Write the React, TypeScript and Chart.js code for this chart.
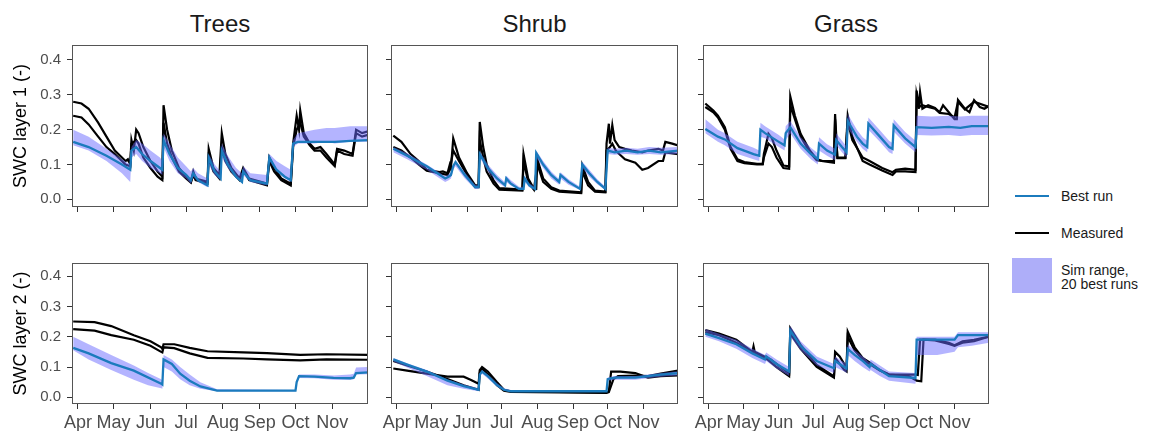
import React, { useEffect, useRef } from "react";
import { Chart, registerables } from "chart.js";

Chart.register(...registerables);
Chart.defaults.font.family = "'Liberation Sans', Arial, sans-serif";

type Pt = [number, number];
type Rng = [number, number, number];

// ---------- axes / labels ----------
const monthStartDays = [91, 121, 152, 182, 213, 244, 274, 305];
const monthLabels = ["Apr", "May", "Jun", "Jul", "Aug", "Sep", "Oct", "Nov"];
const swcTicks = [0, 0.1, 0.2, 0.3, 0.4];
const vegetationTypes = ["Trees", "Shrub", "Grass"];
const layerTitles = ["SWC layer 1 (-)", "SWC layer 2 (-)"];
const legendLabels = ["Best run", "Measured", "Sim range,", "20 best runs"];
const dayRange = [86, 335];
const swcRange = [-0.022, 0.443];

// ---------- Trees, layer 1 ----------
const treesL1MeasA: Pt[] = [[87,0.28],[94,0.275],[100,0.26],[108,0.22],[115,0.18],[122,0.14],[128,0.12],[131,0.11],[133,0.115],[135,0.1],[136,0.17],[138,0.14],[140,0.2],[142,0.19],[146,0.15],[152,0.11],[158,0.08],[162,0.065],[163,0.27],[166,0.2],[170,0.14],[176,0.09],[182,0.065],[186,0.05],[188,0.08],[190,0.06],[200,0.05],[201,0.145],[205,0.09],[210,0.07],[212,0.19],[215,0.13],[220,0.09],[227,0.06],[230,0.09],[235,0.06],[250,0.045],[252,0.12],[256,0.09],[262,0.06],[270,0.045],[272,0.16],[275,0.24],[277,0.2],[278,0.255],[281,0.19],[286,0.16],[290,0.145],[295,0.15],[300,0.13],[307,0.1],[309,0.145],[315,0.14],[322,0.13],[325,0.2],[330,0.19],[335,0.195]];
const treesL1MeasB: Pt[] = [[87,0.24],[94,0.235],[100,0.215],[108,0.18],[115,0.15],[122,0.13],[128,0.11],[131,0.1],[135,0.095],[136,0.16],[140,0.17],[142,0.16],[146,0.12],[152,0.09],[158,0.065],[162,0.055],[163,0.22],[166,0.16],[170,0.12],[176,0.08],[182,0.06],[186,0.048],[188,0.07],[190,0.055],[200,0.045],[201,0.12],[205,0.08],[210,0.06],[212,0.15],[215,0.11],[220,0.08],[227,0.055],[230,0.085],[235,0.055],[250,0.04],[252,0.11],[256,0.08],[262,0.055],[270,0.04],[272,0.15],[275,0.2],[278,0.22],[281,0.18],[286,0.155],[290,0.14],[295,0.14],[300,0.12],[307,0.095],[309,0.14],[315,0.13],[322,0.125],[325,0.19],[330,0.18],[335,0.185]];
const treesL1Best: Pt[] = [[87,0.165],[100,0.15],[115,0.125],[128,0.1],[135,0.085],[136,0.14],[140,0.15],[145,0.13],[152,0.11],[160,0.09],[162,0.085],[163,0.17],[168,0.13],[175,0.09],[182,0.07],[186,0.055],[188,0.075],[192,0.055],[200,0.04],[201,0.12],[206,0.08],[211,0.06],[212,0.14],[217,0.1],[224,0.065],[229,0.05],[230,0.08],[236,0.055],[250,0.045],[252,0.12],[258,0.085],[265,0.065],[270,0.055],[272,0.16],[276,0.165],[290,0.165],[307,0.165],[320,0.168],[335,0.17]];
const treesL1Range: Rng[] = [[87,0.155,0.2],[100,0.14,0.18],[115,0.11,0.145],[128,0.075,0.115],[135,0.05,0.1],[136,0.12,0.15],[140,0.13,0.17],[145,0.11,0.16],[152,0.09,0.14],[160,0.075,0.12],[162,0.07,0.11],[163,0.15,0.19],[168,0.11,0.16],[175,0.075,0.12],[182,0.06,0.095],[186,0.045,0.08],[188,0.065,0.09],[192,0.05,0.075],[200,0.035,0.06],[201,0.1,0.13],[206,0.07,0.1],[211,0.055,0.08],[212,0.12,0.16],[217,0.09,0.125],[224,0.06,0.09],[229,0.05,0.075],[230,0.07,0.095],[236,0.05,0.075],[250,0.04,0.07],[252,0.11,0.13],[258,0.08,0.11],[265,0.06,0.095],[270,0.05,0.085],[272,0.15,0.17],[276,0.16,0.19],[290,0.16,0.2],[300,0.165,0.205],[307,0.16,0.205],[320,0.165,0.21],[335,0.165,0.21]];

// ---------- Trees, layer 2 ----------
const treesL2MeasA: Pt[] = [[87,0.25],[105,0.248],[119,0.235],[138,0.205],[152,0.185],[161,0.165],[162,0.16],[163,0.175],[172,0.175],[185,0.163],[200,0.152],[230,0.148],[250,0.146],[278,0.14],[300,0.142],[335,0.14]];
const treesL2MeasB: Pt[] = [[87,0.225],[105,0.22],[119,0.205],[138,0.19],[152,0.17],[161,0.15],[162,0.148],[163,0.165],[172,0.162],[185,0.145],[200,0.13],[230,0.128],[250,0.125],[278,0.122],[300,0.125],[335,0.124]];
const treesL2Best: Pt[] = [[87,0.163],[100,0.145],[119,0.113],[138,0.088],[161,0.045],[162,0.042],[163,0.125],[170,0.11],[177,0.078],[185,0.055],[194,0.036],[208,0.022],[274,0.022],[275,0.05],[277,0.07],[290,0.068],[306,0.064],[320,0.063],[323,0.065],[325,0.08],[335,0.082]];
const treesL2Range: Rng[] = [[87,0.155,0.2],[100,0.125,0.175],[119,0.09,0.14],[138,0.058,0.105],[150,0.04,0.08],[161,0.03,0.06],[162,0.028,0.055],[163,0.1,0.14],[170,0.085,0.125],[177,0.06,0.1],[185,0.04,0.075],[194,0.028,0.05],[208,0.02,0.027],[274,0.02,0.024],[275,0.045,0.055],[277,0.064,0.075],[290,0.063,0.075],[306,0.058,0.072],[320,0.058,0.075],[323,0.06,0.078],[325,0.075,0.098],[335,0.076,0.1]];

// ---------- Shrub, layer 1 ----------
const shrubL1MeasA: Pt[] = [[88,0.183],[95,0.165],[103,0.13],[110,0.11],[117,0.085],[128,0.078],[131,0.08],[135,0.075],[137,0.1],[138,0.09],[140,0.175],[145,0.12],[152,0.075],[159,0.04],[162,0.04],[163,0.222],[166,0.15],[169,0.1],[175,0.054],[180,0.032],[200,0.028],[201,0.13],[205,0.06],[210,0.03],[212,0.03],[213,0.115],[218,0.06],[225,0.035],[232,0.025],[251,0.02],[252,0.097],[257,0.05],[263,0.025],[272,0.022],[273,0.16],[275,0.217],[276,0.16],[278,0.213],[280,0.17],[284,0.15],[289,0.145],[295,0.14],[304,0.135],[309,0.14],[318,0.145],[322,0.14],[324,0.165],[330,0.16],[335,0.155]];
const shrubL1MeasB: Pt[] = [[88,0.15],[95,0.14],[103,0.12],[110,0.1],[117,0.082],[128,0.075],[135,0.07],[137,0.085],[140,0.14],[145,0.11],[152,0.07],[159,0.035],[162,0.035],[163,0.17],[166,0.12],[169,0.08],[175,0.045],[180,0.028],[200,0.025],[201,0.11],[205,0.05],[210,0.028],[213,0.1],[218,0.05],[225,0.03],[232,0.022],[251,0.018],[252,0.08],[257,0.04],[263,0.022],[272,0.02],[273,0.14],[276,0.15],[278,0.16],[281,0.14],[284,0.13],[289,0.115],[298,0.105],[304,0.085],[309,0.09],[318,0.11],[322,0.11],[324,0.135],[335,0.13]];
const shrubL1Best: Pt[] = [[88,0.145],[100,0.125],[117,0.095],[133,0.06],[136,0.065],[138,0.07],[140,0.095],[142,0.107],[150,0.07],[159,0.035],[162,0.035],[163,0.13],[170,0.09],[178,0.06],[185,0.04],[186,0.06],[190,0.045],[197,0.03],[201,0.03],[202,0.06],[206,0.04],[211,0.03],[212,0.133],[218,0.1],[225,0.07],[232,0.05],[233,0.07],[240,0.05],[250,0.03],[252,0.1],[258,0.075],[265,0.05],[272,0.03],[274,0.14],[280,0.135],[290,0.14],[300,0.135],[310,0.14],[320,0.135],[335,0.14]];
const shrubL1Range: Rng[] = [[88,0.135,0.15],[100,0.115,0.132],[117,0.085,0.1],[133,0.05,0.066],[136,0.055,0.072],[138,0.06,0.078],[140,0.085,0.1],[142,0.095,0.112],[150,0.06,0.078],[159,0.03,0.042],[162,0.03,0.04],[163,0.12,0.138],[170,0.08,0.1],[178,0.05,0.07],[185,0.035,0.048],[186,0.05,0.068],[190,0.04,0.055],[197,0.027,0.036],[201,0.027,0.035],[202,0.05,0.068],[206,0.035,0.046],[211,0.027,0.035],[212,0.12,0.14],[218,0.09,0.11],[225,0.06,0.08],[232,0.042,0.058],[233,0.06,0.078],[240,0.042,0.058],[250,0.027,0.036],[252,0.09,0.108],[258,0.065,0.085],[265,0.043,0.058],[272,0.027,0.036],[274,0.13,0.148],[280,0.128,0.145],[290,0.13,0.148],[300,0.128,0.145],[310,0.13,0.15],[320,0.128,0.148],[335,0.13,0.15]];

// ---------- Shrub, layer 2 ----------
const shrubL2MeasA: Pt[] = [[88,0.095],[100,0.088],[117,0.078],[135,0.068],[149,0.068],[155,0.058],[162,0.045],[163,0.09],[165,0.1],[170,0.085],[178,0.05],[184,0.025],[190,0.02],[230,0.018],[273,0.016],[275,0.02],[277,0.085],[285,0.085],[298,0.08],[305,0.07],[309,0.065],[320,0.07],[335,0.072]];
const shrubL2MeasB: Pt[] = [[88,0.12],[100,0.105],[117,0.085],[135,0.06],[149,0.04],[162,0.025],[163,0.08],[165,0.095],[170,0.075],[178,0.04],[184,0.022],[190,0.018],[273,0.015],[275,0.017],[279,0.06],[283,0.07],[298,0.072],[309,0.07],[320,0.078],[335,0.088]];
const shrubL2Best: Pt[] = [[88,0.125],[100,0.108],[117,0.085],[135,0.055],[149,0.037],[162,0.025],[163,0.075],[165,0.085],[170,0.07],[178,0.04],[184,0.025],[190,0.02],[273,0.02],[274,0.06],[280,0.065],[298,0.065],[309,0.07],[320,0.075],[335,0.08]];
const shrubL2Range: Rng[] = [[88,0.118,0.13],[100,0.098,0.112],[117,0.07,0.09],[135,0.04,0.06],[149,0.028,0.042],[162,0.02,0.03],[163,0.068,0.08],[165,0.078,0.09],[170,0.062,0.075],[178,0.035,0.047],[184,0.022,0.03],[190,0.018,0.024],[273,0.018,0.023],[274,0.055,0.065],[280,0.058,0.07],[298,0.058,0.07],[309,0.063,0.075],[320,0.068,0.08],[335,0.072,0.086]];

// ---------- Grass, layer 1 ----------
const grassL1MeasA: Pt[] = [[88,0.275],[95,0.255],[99,0.24],[105,0.207],[110,0.15],[116,0.115],[122,0.107],[133,0.102],[138,0.102],[139,0.13],[143,0.188],[146,0.175],[150,0.14],[156,0.097],[161,0.095],[162,0.295],[166,0.24],[171,0.188],[179,0.14],[185,0.116],[190,0.11],[200,0.11],[201,0.245],[203,0.12],[210,0.12],[212,0.24],[216,0.18],[225,0.11],[231,0.1],[242,0.083],[251,0.07],[254,0.08],[262,0.08],[271,0.078],[272,0.312],[274,0.26],[275,0.307],[277,0.26],[282,0.27],[288,0.262],[292,0.25],[295,0.27],[300,0.25],[305,0.23],[307,0.23],[308,0.285],[314,0.26],[318,0.25],[322,0.285],[327,0.265],[331,0.26],[335,0.268]];
const grassL1MeasB: Pt[] = [[88,0.265],[95,0.25],[99,0.235],[105,0.2],[110,0.145],[116,0.11],[122,0.104],[133,0.1],[138,0.1],[139,0.12],[143,0.16],[146,0.15],[150,0.12],[156,0.09],[161,0.088],[162,0.27],[166,0.23],[171,0.18],[179,0.135],[185,0.112],[200,0.105],[201,0.23],[203,0.118],[210,0.118],[212,0.225],[216,0.17],[225,0.12],[231,0.11],[242,0.09],[251,0.078],[254,0.085],[262,0.088],[271,0.085],[272,0.3],[274,0.265],[277,0.27],[282,0.265],[288,0.26],[292,0.248],[300,0.245],[305,0.235],[308,0.28],[314,0.258],[322,0.28],[335,0.265]];
const grassL1Best: Pt[] = [[88,0.202],[99,0.18],[105,0.172],[116,0.147],[130,0.13],[135,0.125],[136,0.2],[140,0.19],[152,0.165],[157,0.155],[158,0.19],[162,0.207],[171,0.16],[180,0.13],[186,0.116],[187,0.16],[194,0.14],[201,0.128],[202,0.17],[207,0.15],[211,0.135],[212,0.225],[220,0.18],[225,0.16],[229,0.15],[230,0.217],[240,0.18],[248,0.15],[251,0.145],[252,0.212],[262,0.175],[271,0.15],[272,0.207],[285,0.205],[300,0.208],[310,0.205],[320,0.21],[335,0.21]];
const grassL1Range: Rng[] = [[88,0.19,0.23],[99,0.165,0.2],[105,0.155,0.19],[116,0.13,0.165],[130,0.115,0.148],[135,0.11,0.14],[136,0.18,0.22],[140,0.175,0.21],[152,0.15,0.185],[157,0.14,0.172],[158,0.17,0.21],[162,0.19,0.225],[171,0.145,0.178],[180,0.115,0.148],[186,0.1,0.132],[187,0.14,0.178],[194,0.125,0.158],[201,0.112,0.145],[202,0.155,0.19],[207,0.135,0.168],[211,0.12,0.152],[212,0.205,0.245],[220,0.165,0.2],[225,0.145,0.178],[229,0.135,0.168],[230,0.2,0.235],[240,0.165,0.198],[248,0.135,0.168],[251,0.13,0.162],[252,0.195,0.23],[262,0.16,0.193],[271,0.135,0.168],[272,0.185,0.24],[285,0.183,0.238],[300,0.185,0.24],[310,0.182,0.238],[320,0.185,0.24],[335,0.185,0.24]];

// ---------- Grass, layer 2 ----------
const grassL2MeasA: Pt[] = [[88,0.222],[100,0.21],[115,0.19],[129,0.15],[130,0.168],[131,0.15],[142,0.13],[145,0.125],[150,0.11],[161,0.078],[162,0.228],[171,0.173],[185,0.107],[200,0.069],[201,0.15],[205,0.135],[209,0.11],[211,0.1],[212,0.217],[218,0.165],[225,0.13],[231,0.115],[240,0.09],[248,0.075],[271,0.075],[273,0.074],[275,0.19],[288,0.19],[300,0.18],[305,0.172],[312,0.185],[322,0.19],[335,0.2]];
const grassL2MeasB: Pt[] = [[88,0.215],[100,0.205],[115,0.18],[129,0.148],[142,0.125],[150,0.1],[161,0.07],[162,0.21],[171,0.16],[185,0.1],[200,0.065],[201,0.13],[209,0.09],[211,0.085],[212,0.2],[218,0.155],[225,0.125],[231,0.11],[240,0.088],[248,0.075],[265,0.07],[272,0.055],[276,0.053],[278,0.19],[288,0.188],[300,0.176],[305,0.17],[312,0.18],[322,0.185],[335,0.2]];
const grassL2Best: Pt[] = [[88,0.21],[100,0.195],[115,0.175],[129,0.145],[140,0.125],[141,0.135],[150,0.11],[161,0.085],[162,0.22],[171,0.17],[185,0.12],[200,0.096],[201,0.12],[209,0.1],[211,0.095],[212,0.16],[218,0.14],[225,0.12],[231,0.1],[232,0.11],[240,0.09],[248,0.07],[271,0.064],[272,0.19],[290,0.19],[305,0.19],[308,0.205],[320,0.205],[335,0.205]];
const grassL2Range: Rng[] = [[88,0.2,0.225],[100,0.185,0.21],[115,0.16,0.19],[129,0.13,0.16],[140,0.11,0.14],[141,0.12,0.148],[150,0.095,0.125],[161,0.07,0.1],[162,0.2,0.235],[171,0.155,0.185],[185,0.105,0.135],[200,0.08,0.11],[201,0.1,0.135],[209,0.085,0.115],[211,0.08,0.11],[212,0.14,0.175],[218,0.12,0.155],[225,0.1,0.135],[231,0.085,0.115],[232,0.09,0.125],[240,0.07,0.105],[248,0.055,0.085],[271,0.045,0.08],[272,0.14,0.2],[290,0.14,0.2],[305,0.15,0.2],[308,0.165,0.215],[320,0.17,0.215],[335,0.18,0.215]];

// ---------- layout & style ----------
const colLeft = [72, 391, 703];
const colRight = [368, 678, 989];
const rowTop = [45, 263];
const rowBottom = [207, 404];
const BLUE = "#1b7bbd";
const BAND = "rgba(105,105,255,0.5)";
const BAND_KEY = "#aeaef9";
const FONT = "'Liberation Sans', Arial, sans-serif";

const panels = [
  { row: 0, col: 0, measA: treesL1MeasA, measB: treesL1MeasB, best: treesL1Best, range: treesL1Range },
  { row: 0, col: 1, measA: shrubL1MeasA, measB: shrubL1MeasB, best: shrubL1Best, range: shrubL1Range },
  { row: 0, col: 2, measA: grassL1MeasA, measB: grassL1MeasB, best: grassL1Best, range: grassL1Range },
  { row: 1, col: 0, measA: treesL2MeasA, measB: treesL2MeasB, best: treesL2Best, range: treesL2Range },
  { row: 1, col: 1, measA: shrubL2MeasA, measB: shrubL2MeasB, best: shrubL2Best, range: shrubL2Range },
  { row: 1, col: 2, measA: grassL2MeasA, measB: grassL2MeasB, best: grassL2Best, range: grassL2Range },
];

const framePlugin = {
  id: "panelFrame",
  afterDraw(chart: any) {
    const { ctx, chartArea: a } = chart;
    ctx.save();
    ctx.strokeStyle = "#555555";
    ctx.lineWidth = 1;
    ctx.strokeRect(a.left + 0.5, a.top + 0.5, a.right - a.left - 1, a.bottom - a.top - 1);
    ctx.restore();
  },
};

function Panel({ p }: { p: any }) {
  const ref = useRef<HTMLCanvasElement>(null);
  const axisW = p.col === 0 ? 72 : 10;
  const axisH = p.row === 1 ? 27 : 8;
  const padT = 2;
  const padR = 2;
  const plotW = colRight[p.col] - colLeft[p.col];
  const plotH = rowBottom[p.row] - rowTop[p.row];
  const W = plotW + axisW + padR;
  const H = plotH + padT + axisH;

  useEffect(() => {
    const xy = (a: Pt[]) => a.map((d) => ({ x: d[0], y: d[1] }));
    const chart = new Chart(ref.current as HTMLCanvasElement, {
      type: "line",
      data: {
        datasets: [
          { data: xy(p.best), borderColor: BLUE, borderWidth: 2.3, pointRadius: 0, fill: false, tension: 0 },
          { data: p.range.map((d: Rng) => ({ x: d[0], y: d[2] })), borderColor: "rgba(0,0,0,0)", borderWidth: 0, backgroundColor: BAND, pointRadius: 0, fill: "+1", tension: 0 },
          { data: p.range.map((d: Rng) => ({ x: d[0], y: d[1] })), borderColor: "rgba(0,0,0,0)", borderWidth: 0, pointRadius: 0, fill: false, tension: 0 },
          { data: xy(p.measA), borderColor: "#000000", borderWidth: 2.2, pointRadius: 0, fill: false, tension: 0 },
          { data: xy(p.measB), borderColor: "#000000", borderWidth: 2.2, pointRadius: 0, fill: false, tension: 0 },
        ],
      } as any,
      options: {
        animation: false,
        responsive: false,
        devicePixelRatio: 1,
        events: [],
        layout: { padding: { top: padT, right: padR, left: 0, bottom: 0 } },
        plugins: { legend: { display: false }, tooltip: { enabled: false }, title: { display: false } },
        scales: {
          x: {
            type: "linear",
            min: dayRange[0],
            max: dayRange[1],
            afterBuildTicks: (s: any) => {
              s.ticks = monthStartDays.map((v) => ({ value: v }));
            },
            afterFit: (s: any) => {
              s.height = axisH;
              s.paddingLeft = 0; s.paddingRight = 0; s.paddingTop = 0; s.paddingBottom = 0;
            },
            ticks: {
              display: p.row === 1,
              autoSkip: false,
              maxRotation: 0,
              minRotation: 0,
              padding: 3,
              color: "#4d4d4d",
              font: { size: 18, family: FONT },
              callback: (_v: any, i: number) => monthLabels[i],
            },
            grid: { drawOnChartArea: false, drawTicks: true, tickLength: 5, color: "#333333", lineWidth: 1 },
            border: { display: false },
          },
          y: {
            type: "linear",
            min: swcRange[0],
            max: swcRange[1],
            afterBuildTicks: (s: any) => {
              s.ticks = swcTicks.map((v) => ({ value: v }));
            },
            afterFit: (s: any) => {
              s.width = axisW;
              s.paddingLeft = 0; s.paddingRight = 0; s.paddingTop = 0; s.paddingBottom = 0;
            },
            ticks: {
              display: p.col === 0,
              padding: 6,
              color: "#4d4d4d",
              font: { size: 15, family: FONT },
              callback: (v: any) => Number(v).toFixed(1),
            },
            title: {
              display: p.col === 0,
              text: layerTitles[p.row],
              color: "#000000",
              font: { size: 18, family: FONT },
              padding: { top: 10, bottom: 0 },
            },
            grid: { drawOnChartArea: false, drawTicks: true, tickLength: 5, color: "#333333", lineWidth: 1 },
            border: { display: false },
          },
        },
      } as any,
      plugins: [framePlugin],
    });
    return () => chart.destroy();
  }, []);

  return (
    <canvas
      ref={ref}
      width={W}
      height={H}
      style={{ position: "absolute", left: colLeft[p.col] - axisW, top: rowTop[p.row] - padT, width: W, height: H }}
    />
  );
}

export default function App() {
  const text = (extra: any) => ({ position: "absolute" as const, fontFamily: FONT, whiteSpace: "nowrap" as const, ...extra });
  return (
    <div style={{ position: "fixed", left: 0, top: 0, width: 1151, height: 431, background: "#ffffff", overflow: "hidden" }}>
      {vegetationTypes.map((t, i) => (
        <div key={t} style={text({ left: (colLeft[i] + colRight[i]) / 2 - 100, width: 200, top: 10, fontSize: 24, lineHeight: "28px", textAlign: "center", color: "#1a1a1a" })}>
          {t}
        </div>
      ))}
      {panels.map((p, i) => (
        <Panel key={i} p={p} />
      ))}
      {/* legend */}
      <div style={{ position: "absolute", left: 1015, top: 195, width: 34, height: 2, background: BLUE }} />
      <div style={text({ left: 1061, top: 188, fontSize: 14, lineHeight: "16px", color: "#1a1a1a" })}>{legendLabels[0]}</div>
      <div style={{ position: "absolute", left: 1015, top: 232, width: 34, height: 2, background: "#000000" }} />
      <div style={text({ left: 1061, top: 225, fontSize: 14, lineHeight: "16px", color: "#1a1a1a" })}>{legendLabels[1]}</div>
      <div style={{ position: "absolute", left: 1012, top: 258, width: 40, height: 35, background: BAND_KEY }} />
      <div style={text({ left: 1061, top: 263, fontSize: 14, lineHeight: "14px", color: "#1a1a1a" })}>
        {legendLabels[2]}
        <br />
        {legendLabels[3]}
      </div>
    </div>
  );
}
